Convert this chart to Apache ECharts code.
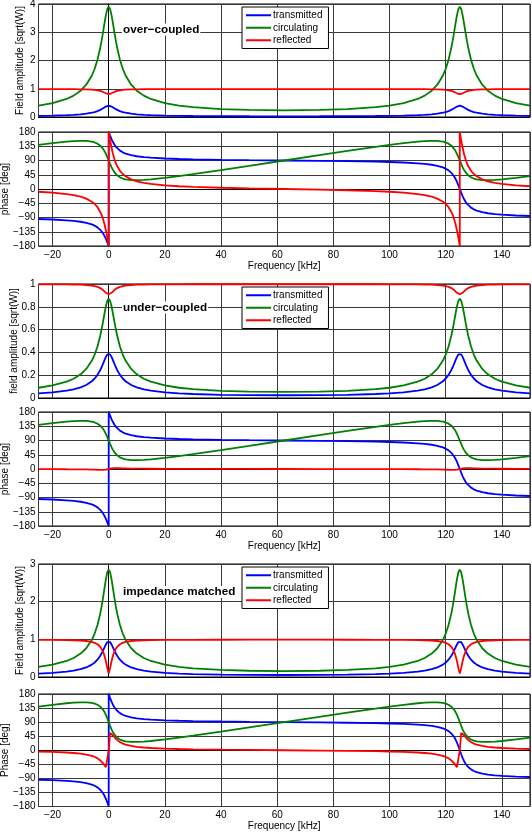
<!DOCTYPE html>
<html><head><meta charset="utf-8">
<script src="https://cdn.jsdelivr.net/npm/echarts@6/dist/echarts.min.js"></script>
<style>html,body{margin:0;padding:0;background:#fff}#c{width:532px;height:832px}</style>
</head><body><div id="c"></div>
<script>
const freq = [-25,-20,-15,-12.5,-10,-8,-6,-5,-4,-3,-2.5,-2,-1.5,-1,-0.5,0,0,0.5,1,1.5,2,2.5,3,4,5,6,8,10,12.5,15,20,25,30,40,50,62.5,75,85,95,100,105,110,112.5,115,117,119,120,121,122,122.5,123,123.5,124,124.5,125,125,125.5,126,126.5,127,127.5,128,129,130,131,133,135,137.5,140,145,150];

// over-coupled
const amp1Trans = [0.041,0.05,0.066,0.078,0.095,0.117,0.151,0.175,0.208,0.252,0.279,0.309,0.34,0.37,0.392,0.4,0.4,0.392,0.37,0.34,0.309,0.279,0.252,0.208,0.175,0.151,0.117,0.095,0.078,0.066,0.05,0.041,0.036,0.029,0.026,0.024,0.026,0.029,0.036,0.041,0.05,0.066,0.078,0.095,0.117,0.151,0.175,0.208,0.252,0.279,0.309,0.34,0.37,0.392,0.4,0.4,0.392,0.37,0.34,0.309,0.279,0.252,0.208,0.175,0.151,0.117,0.095,0.078,0.066,0.05,0.041];
const amp1Circ = [0.403,0.491,0.639,0.757,0.931,1.142,1.47,1.709,2.028,2.457,2.72,3.013,3.32,3.607,3.82,3.9,3.9,3.82,3.607,3.32,3.013,2.72,2.457,2.028,1.709,1.47,1.142,0.931,0.757,0.639,0.491,0.403,0.347,0.282,0.25,0.238,0.25,0.282,0.347,0.403,0.491,0.639,0.757,0.931,1.142,1.47,1.709,2.028,2.457,2.72,3.013,3.32,3.607,3.82,3.9,3.9,3.82,3.607,3.32,3.013,2.72,2.457,2.028,1.709,1.47,1.142,0.931,0.757,0.639,0.491,0.403];
const amp1Refl = [0.989,0.988,0.986,0.984,0.981,0.976,0.967,0.959,0.945,0.923,0.907,0.887,0.864,0.839,0.819,0.81,0.81,0.819,0.839,0.864,0.887,0.907,0.923,0.945,0.959,0.967,0.976,0.981,0.984,0.986,0.988,0.989,0.989,0.99,0.99,0.99,0.99,0.99,0.989,0.989,0.988,0.986,0.984,0.981,0.976,0.967,0.959,0.945,0.923,0.907,0.887,0.864,0.839,0.819,0.81,0.81,0.819,0.839,0.864,0.887,0.907,0.923,0.945,0.959,0.967,0.976,0.981,0.984,0.986,0.988,0.989];
const ph1Trans = [-94.8,-96.3,-98.8,-100.6,-103.4,-106.7,-111.9,-115.8,-121.2,-128.9,-134.1,-140.5,-148.3,-157.6,-168.4,-180,180,168.4,157.6,148.3,140.5,134.1,128.9,121.2,115.8,111.9,106.7,103.4,100.6,98.8,96.3,94.8,93.7,92.2,91.1,90,88.9,87.8,86.3,85.2,83.7,81.2,79.4,76.6,73.3,68.1,64.2,58.8,51.1,45.9,39.5,31.7,22.4,11.6,0,0,-11.6,-22.4,-31.7,-39.5,-45.9,-51.1,-58.8,-64.2,-68.1,-73.3,-76.6,-79.4,-81.2,-83.7,-85.2];
const ph1Circ = [139.2,144.9,149.6,151.4,152.2,151.8,149.5,147.0,143.1,136.8,132.3,126.6,119.6,111.0,100.9,90,90,79.1,69.1,60.4,53.4,47.7,43.3,36.9,33.0,30.5,28.2,27.8,28.6,30.4,35.1,40.8,46.9,59.8,73.1,90,106.9,120.2,133.1,139.2,144.9,149.6,151.4,152.2,151.8,149.5,147.0,143.1,136.8,132.3,126.6,119.6,111.0,100.9,90,90,79.1,69.1,60.4,53.4,47.7,43.3,36.9,33.0,30.5,28.2,27.8,28.6,30.4,35.1,40.8];
const ph1Refl = [-8.7,-11.5,-16.0,-19.4,-24.4,-30.4,-40.1,-47.4,-57.5,-72.4,-82.6,-95.3,-111.2,-130.9,-154.2,-180,180,154.2,130.9,111.2,95.3,82.6,72.4,57.5,47.4,40.1,30.4,24.4,19.4,16.0,11.5,8.7,6.8,4.0,2.1,0,-2.1,-4.0,-6.8,-8.7,-11.5,-16.0,-19.4,-24.4,-30.4,-40.1,-47.4,-57.5,-72.4,-82.6,-95.3,-111.2,-130.9,-154.2,-180,180,154.2,130.9,111.2,95.3,82.6,72.4,57.5,47.4,40.1,30.4,24.4,19.4,16.0,11.5,8.7];

// under-coupled
const amp2Trans = [0.04,0.049,0.064,0.076,0.093,0.114,0.147,0.171,0.203,0.246,0.272,0.301,0.332,0.361,0.382,0.39,0.39,0.382,0.361,0.332,0.301,0.272,0.246,0.203,0.171,0.147,0.114,0.093,0.076,0.064,0.049,0.04,0.035,0.028,0.025,0.024,0.025,0.028,0.035,0.04,0.049,0.064,0.076,0.093,0.114,0.147,0.171,0.203,0.246,0.272,0.301,0.332,0.361,0.382,0.39,0.39,0.382,0.361,0.332,0.301,0.272,0.246,0.203,0.171,0.147,0.114,0.093,0.076,0.064,0.049,0.04];
const amp2Circ = [0.09,0.11,0.143,0.169,0.208,0.255,0.328,0.381,0.452,0.548,0.607,0.672,0.741,0.805,0.852,0.87,0.87,0.852,0.805,0.741,0.672,0.607,0.548,0.452,0.381,0.328,0.255,0.208,0.169,0.143,0.11,0.09,0.077,0.063,0.056,0.053,0.056,0.063,0.077,0.09,0.11,0.143,0.169,0.208,0.255,0.328,0.381,0.452,0.548,0.607,0.672,0.741,0.805,0.852,0.87,0.87,0.852,0.805,0.741,0.672,0.607,0.548,0.452,0.381,0.328,0.255,0.208,0.169,0.143,0.11,0.09];
const amp2Refl = [0.997,0.997,0.996,0.995,0.994,0.991,0.986,0.982,0.975,0.964,0.956,0.947,0.935,0.923,0.914,0.91,0.91,0.914,0.923,0.935,0.947,0.956,0.964,0.975,0.982,0.986,0.991,0.994,0.995,0.996,0.997,0.997,0.998,0.998,0.998,0.998,0.998,0.998,0.998,0.997,0.997,0.996,0.995,0.994,0.991,0.986,0.982,0.975,0.964,0.956,0.947,0.935,0.923,0.914,0.91,0.91,0.914,0.923,0.935,0.947,0.956,0.964,0.975,0.982,0.986,0.991,0.994,0.995,0.996,0.997,0.997];
const ph2Trans = [-94.8,-96.3,-98.8,-100.6,-103.4,-106.7,-111.9,-115.8,-121.2,-128.9,-134.1,-140.5,-148.3,-157.6,-168.4,-180,180,168.4,157.6,148.3,140.5,134.1,128.9,121.2,115.8,111.9,106.7,103.4,100.6,98.8,96.3,94.8,93.7,92.2,91.1,90,88.9,87.8,86.3,85.2,83.7,81.2,79.4,76.6,73.3,68.1,64.2,58.8,51.1,45.9,39.5,31.7,22.4,11.6,0,0,-11.6,-22.4,-31.7,-39.5,-45.9,-51.1,-58.8,-64.2,-68.1,-73.3,-76.6,-79.4,-81.2,-83.7,-85.2];
const ph2Circ = [139.2,144.9,149.6,151.4,152.2,151.8,149.5,147.0,143.1,136.8,132.3,126.6,119.6,111.0,100.9,90,90,79.1,69.1,60.4,53.4,47.7,43.3,36.9,33.0,30.5,28.2,27.8,28.6,30.4,35.1,40.8,46.9,59.8,73.1,90,106.9,120.2,133.1,139.2,144.9,149.6,151.4,152.2,151.8,149.5,147.0,143.1,136.8,132.3,126.6,119.6,111.0,100.9,90,90,79.1,69.1,60.4,53.4,47.7,43.3,36.9,33.0,30.5,28.2,27.8,28.6,30.4,35.1,40.8];
const ph2Refl = [-0.4,-0.55,-0.8,-0.9,-1.1,-1.4,-1.8,-2.0,-2.3,-2.6,-2.6,-2.6,-2.4,-1.9,-1.1,0,0,1.1,1.9,2.4,2.6,2.6,2.6,2.3,2.0,1.8,1.4,1.1,0.9,0.8,0.55,0.4,0.3,0.2,0.1,0,-0.1,-0.2,-0.3,-0.4,-0.55,-0.8,-0.9,-1.1,-1.4,-1.8,-2.0,-2.3,-2.6,-2.6,-2.6,-2.4,-1.9,-1.1,0,0,1.1,1.9,2.4,2.6,2.6,2.6,2.3,2.0,1.8,1.4,1.1,0.9,0.8,0.55,0.4];

// impedance matched
const amp3Trans = [0.089,0.109,0.142,0.168,0.207,0.254,0.329,0.385,0.46,0.563,0.629,0.704,0.786,0.865,0.927,0.95,0.95,0.927,0.865,0.786,0.704,0.629,0.563,0.46,0.385,0.329,0.254,0.207,0.168,0.142,0.109,0.089,0.077,0.062,0.055,0.053,0.055,0.062,0.077,0.089,0.109,0.142,0.168,0.207,0.254,0.329,0.385,0.46,0.563,0.629,0.704,0.786,0.865,0.927,0.95,0.95,0.927,0.865,0.786,0.704,0.629,0.563,0.46,0.385,0.329,0.254,0.207,0.168,0.142,0.109,0.089];
const amp3Circ = [0.268,0.326,0.425,0.504,0.621,0.763,0.988,1.154,1.379,1.69,1.887,2.113,2.358,2.596,2.78,2.85,2.85,2.78,2.596,2.358,2.113,1.887,1.69,1.379,1.154,0.988,0.763,0.621,0.504,0.425,0.326,0.268,0.23,0.187,0.166,0.158,0.166,0.187,0.23,0.268,0.326,0.425,0.504,0.621,0.763,0.988,1.154,1.379,1.69,1.887,2.113,2.358,2.596,2.78,2.85,2.85,2.78,2.596,2.358,2.113,1.887,1.69,1.379,1.154,0.988,0.763,0.621,0.504,0.425,0.326,0.268];
const amp3Refl = [0.987,0.985,0.981,0.976,0.968,0.956,0.931,0.907,0.869,0.8,0.745,0.669,0.562,0.417,0.236,0.09,0.09,0.236,0.417,0.562,0.669,0.745,0.8,0.869,0.907,0.931,0.956,0.968,0.976,0.981,0.985,0.987,0.988,0.989,0.99,0.99,0.99,0.989,0.988,0.987,0.985,0.981,0.976,0.968,0.956,0.931,0.907,0.869,0.8,0.745,0.669,0.562,0.417,0.236,0.09,0.09,0.236,0.417,0.562,0.669,0.745,0.8,0.869,0.907,0.931,0.956,0.968,0.976,0.981,0.985,0.987];
const ph3Trans = [-94.4,-95.8,-98.0,-99.7,-102.2,-105.2,-110.0,-113.7,-118.8,-126.3,-131.4,-137.8,-145.8,-155.6,-167.2,-180,180,167.2,155.6,145.8,137.8,131.4,126.3,118.8,113.7,110.0,105.2,102.2,99.7,98.0,95.8,94.4,93.4,92.0,91.0,90,89.0,88.0,86.6,85.6,84.2,82.0,80.3,77.8,74.8,70.0,66.3,61.2,53.7,48.6,42.2,34.2,24.4,12.8,0,0,-12.8,-24.4,-34.2,-42.2,-48.6,-53.7,-61.2,-66.3,-70.0,-74.8,-77.8,-80.3,-82.0,-84.2,-85.6];
const ph3Circ = [139.6,145.4,150.4,152.3,153.4,153.3,151.3,149.1,145.5,139.4,135.0,129.4,122.1,113.0,102.1,90,90,77.9,67.0,57.9,50.6,45.0,40.6,34.5,30.9,28.7,26.7,26.6,27.7,29.6,34.6,40.4,46.6,59.6,73.0,90,107.0,120.4,133.4,139.6,145.4,150.4,152.3,153.4,153.3,151.3,149.1,145.5,139.4,135.0,129.4,122.1,113.0,102.1,90,90,77.9,67.0,57.9,50.6,45.0,40.6,34.5,30.9,28.7,26.7,26.6,27.7,29.6,34.6,40.4];
const ph3Refl = [-4.0,-5.2,-7.2,-8.8,-11.1,-13.8,-18.1,-21.4,-25.9,-32.5,-36.8,-42.0,-48.2,-54.3,-55.4,0,0,55.4,54.3,48.2,42.0,36.8,32.5,25.9,21.4,18.1,13.8,11.1,8.8,7.2,5.2,4.0,3.1,1.8,0.9,0,-0.9,-1.8,-3.1,-4.0,-5.2,-7.2,-8.8,-11.1,-13.8,-18.1,-21.4,-25.9,-32.5,-36.8,-42.0,-48.2,-54.3,-55.4,0,0,55.4,54.3,48.2,42.0,36.8,32.5,25.9,21.4,18.1,13.8,11.1,8.8,7.2,5.2,4.0];

const seriesNames = ['transmitted','circulating','reflected'];
const colors = ['#0000ff','#008000','#ff0000'];
const xTicks = [-20,0,20,40,60,80,100,120,140];
const annotations = ['over\u2212coupled','under\u2212coupled','impedance matched'];
const ampNames = ['Field amplitude [sqrt(W)]','field amplitude [sqrt(W)]','Field amplitude [sqrt(W)]'];
const phNames = ['phase [deg]','phase [deg]','Phase [deg]'];
const ampMax = [4,1,3];
const ampInterval = [1,0.2,1];

const panels = [
  [amp1Trans,amp1Circ,amp1Refl],[ph1Trans,ph1Circ,ph1Refl],
  [amp2Trans,amp2Circ,amp2Refl],[ph2Trans,ph2Circ,ph2Refl],
  [amp3Trans,amp3Circ,amp3Refl],[ph3Trans,ph3Circ,ph3Refl]
];

const FONT = 'Liberation Sans, Arial, Helvetica, sans-serif';
const gridTops = [4,132,284,412,564,694];
const gridHeights = [113,114,114,114,113,112.5];
const minus = s => String(s).replace('-', '\u2212');

const grid = [], xAxis = [], yAxis = [], series = [], legend = [], graphic = [];
for (let i = 0; i < 6; i++) {
  const isPhase = i % 2 === 1;
  const k = Math.floor(i / 2);
  grid.push({left: 38.5, right: 2, top: gridTops[i], height: gridHeights[i], show: true,
    borderColor: '#000', borderWidth: 1, backgroundColor: '#fff',
    containLabel: false, outerBoundsMode: 'none'});
  xAxis.push({
    type: 'value', gridIndex: i, min: -25, max: 150, splitNumber: 8,
    axisLine: {show: true, lineStyle: {color: '#000', width: 1}},
    axisTick: {show: false},
    axisLabel: {show: isPhase, color: '#000', fontFamily: FONT, fontSize: 10, margin: 4,
      showMinLabel: false, showMaxLabel: false,
      formatter: v => (xTicks.indexOf(v) >= 0 ? minus(v) : '')},
    splitLine: {show: true, lineStyle: {color: '#3a3a3a', width: 1}},
    name: isPhase ? 'Frequency [kHz]' : '', nameLocation: 'middle', nameGap: 15,
    nameMoveOverlap: false,
    nameTextStyle: {color: '#000', fontFamily: FONT, fontSize: 10}
  });
  yAxis.push({
    type: 'value', gridIndex: i,
    min: isPhase ? -180 : 0, max: isPhase ? 180 : ampMax[k], interval: isPhase ? 45 : ampInterval[k],
    axisLine: {show: true, lineStyle: {color: '#000', width: 1}},
    axisTick: {show: false},
    axisLabel: {color: '#000', fontFamily: FONT, fontSize: 10, margin: 3, formatter: v => minus(v)},
    splitLine: {show: true, lineStyle: {color: '#3a3a3a', width: 1}},
    name: isPhase ? phNames[k] : ampNames[k], nameLocation: 'middle', nameRotate: 90,
    nameGap: isPhase ? 28 : (k === 1 ? 19 : 13),
    nameMoveOverlap: false,
    nameTextStyle: {color: '#000', fontFamily: FONT, fontSize: 10}
  });
  for (let s = 0; s < 3; s++) {
    series.push({
      type: 'line', name: seriesNames[s], xAxisIndex: i, yAxisIndex: i,
      data: freq.map((f, j) => [f, panels[i][s][j]]),
      showSymbol: false, smooth: false, clip: true,
      lineStyle: {color: colors[s], width: 1.8}, itemStyle: {color: colors[s]},
      animation: false, z: 2 + s
    });
  }
  if (!isPhase) {
    legend.push({
      left: 242, top: gridTops[i] + 3, orient: 'vertical',
      data: seriesNames, icon: 'rect', itemWidth: 25, itemHeight: 2, itemGap: 0,
      backgroundColor: '#fff', borderColor: '#000', borderWidth: 1, padding: [2, 6, 2, 4],
      textStyle: {color: '#000', fontFamily: FONT, fontSize: 10, lineHeight: 12.5, padding: [0, 0, 0, -3]},
      selectedMode: false
    });
    graphic.push({
      type: 'text', left: 122, top: (i === 0 ? 23.5 : i === 2 ? 301.5 : 586), z: 100,
      style: {text: annotations[k], font: 'bold 11.7px ' + FONT, fill: '#000',
        backgroundColor: '#fff', padding: [0, 1, 0, 1]}
    });
  }
}

const chart = echarts.init(document.getElementById('c'), null, {renderer: 'canvas'});
chart.setOption({animation: false, backgroundColor: '#fff', grid, xAxis, yAxis, series, legend, graphic});
</script>
</body></html>
